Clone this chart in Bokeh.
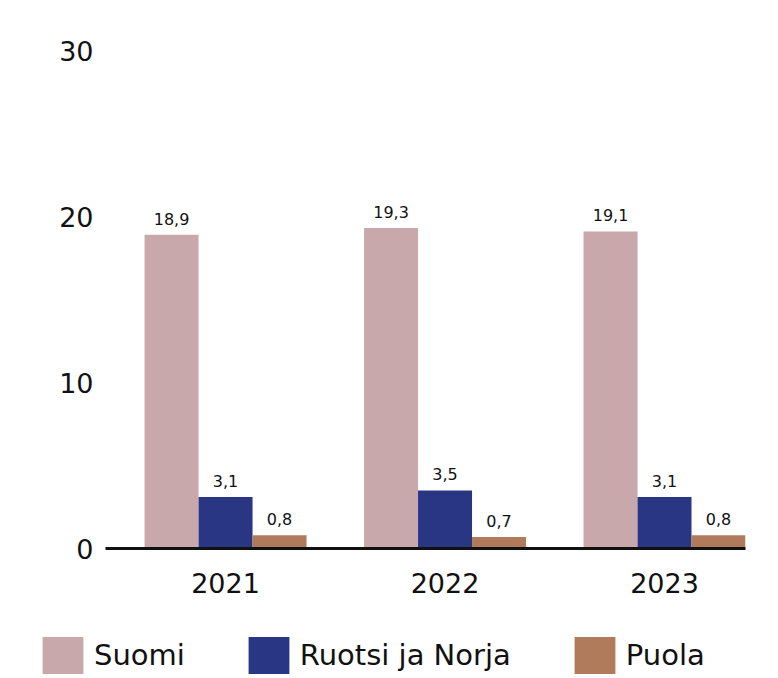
from bokeh.plotting import figure
from bokeh.models import ColumnDataSource, Range1d, FixedTicker, Legend, LegendItem
from bokeh.core.properties import value
from bokeh.embed import file_html
from bokeh.resources import INLINE

years = ["2021", "2022", "2023"]
series = ["Suomi", "Ruotsi ja Norja", "Puola"]
suomi = [18.9, 19.3, 19.1]
ruotsi_norja = [3.1, 3.5, 3.1]
puola = [0.8, 0.7, 0.8]
colors = ["#c8a8ab", "#293684", "#b07b5b"]
y_ticks = [0, 10, 20, 30]

FONT = "DejaVu Sans"
INK = "#111111"

p = figure(width=770, height=610, output_backend="svg", toolbar_location=None,
           x_range=Range1d(-0.547, 2.369), y_range=Range1d(0, 30),
           min_border_left=105, min_border_right=25, min_border_top=50, min_border_bottom=62)
p.outline_line_color = None
p.xgrid.visible = False
p.ygrid.visible = False

bar_w = 0.246
offsets = [-bar_w, 0.0, bar_w]
all_vals = [suomi, ruotsi_norja, puola]
for vals, off, col in zip(all_vals, offsets, colors):
    xs = [i + off for i in range(len(years))]
    src = ColumnDataSource(dict(x=xs, top=vals, lab=[f"{v:.1f}".replace(".", ",") for v in vals]))
    p.vbar(x="x", top="top", bottom=0, width=bar_w, source=src, fill_color=col, line_color=None)
    p.text(x="x", y="top", text="lab", source=src, text_align="center", text_baseline="alphabetic",
           y_offset=-16, text_font=value(FONT), text_font_size="16px", text_color=INK)

p.xaxis.ticker = FixedTicker(ticks=list(range(len(years))))
p.xaxis.major_label_overrides = {i: y for i, y in enumerate(years)}
p.xaxis.axis_line_color = INK
p.xaxis.axis_line_width = 3
p.xaxis.major_tick_line_color = None
p.xaxis.minor_tick_line_color = None
p.xaxis.major_tick_out = 0
p.xaxis.major_tick_in = 0
p.xaxis.major_label_standoff = 24
p.xaxis.major_label_text_font = FONT
p.xaxis.major_label_text_font_size = "27px"
p.xaxis.major_label_text_color = INK

p.yaxis.ticker = FixedTicker(ticks=y_ticks)
p.yaxis.axis_line_color = None
p.yaxis.major_tick_line_color = None
p.yaxis.minor_tick_line_color = None
p.yaxis.major_tick_out = 0
p.yaxis.major_tick_in = 0
p.yaxis.major_label_standoff = 12
p.yaxis.major_label_text_font = FONT
p.yaxis.major_label_text_font_size = "27px"
p.yaxis.major_label_text_color = INK

# legend in its own strip below the chart (bars kept outside its visible y range)
lg = figure(width=770, height=68, output_backend="svg", toolbar_location=None,
            x_range=Range1d(0, 1), y_range=Range1d(1000, 1001),
            x_axis_location=None, y_axis_location=None,
            min_border=0, min_border_left=0, min_border_right=0, min_border_top=0, min_border_bottom=0)
lg.grid.visible = False
lg.outline_line_color = None
items = []
for s, vals, col in zip(series, all_vals, colors):
    r = lg.vbar(x=list(range(len(years))), top=vals, bottom=0, width=0.1, fill_color=col, line_color=None)
    items.append(LegendItem(label=s, renderers=[r]))
legend = Legend(items=items, orientation="horizontal", location=(37, 0),
                glyph_width=51, glyph_height=46, label_height=46, label_standoff=6, spacing=58,
                padding=0, margin=0, border_line_color=None, background_fill_alpha=0,
                label_text_font=FONT, label_text_font_size="29px",
                label_text_color=INK)
lg.add_layout(legend)

open("out.html", "w").write(file_html([p, lg], INLINE))
